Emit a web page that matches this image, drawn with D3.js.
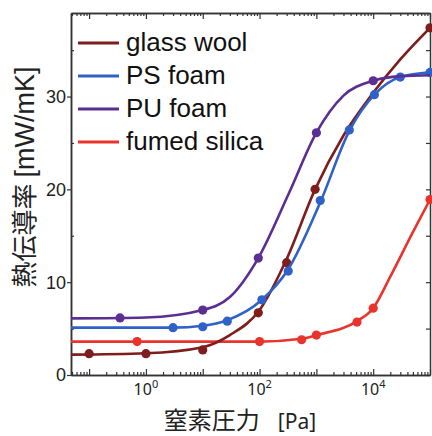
<!DOCTYPE html>
<meta charset="utf-8">
<title>熱伝導率 vs 窒素圧力</title>
<style>
  body { margin: 0; background: #fff; }
  svg { display: block; }
</style>
<body>
<script src="https://d3js.org/d3.v7.min.js"></script>
<script>
// --- data (pressure in Pa, conductivity in mW/mK) ---
var seriesNames = ["glass wool", "PS foam", "PU foam", "fumed silica"];
var seriesColors = ["#7f1d1d", "#2f62c8", "#5a2e92", "#e8342c"];

var glassPts  = [[0.1, 2.3], [1, 2.3], [10, 2.7], [95, 6.7], [300, 12.1], [950, 20.0], [1e5, 37.4]];
var psPts     = [[3, 5.1], [10, 5.2], [27, 5.8], [110, 8.1], [320, 11.2], [1170, 18.8], [3800, 26.4], [1.05e4, 30.2], [3e4, 32.1], [1e5, 32.6]];
var puPts     = [[0.35, 6.15], [10, 7.0], [95, 12.6], [1000, 26.1], [1e4, 31.7]];
var fumedPts  = [[0.7, 3.6], [100, 3.6], [550, 3.8], [1000, 4.3], [5200, 5.7], [1e4, 7.2], [1e5, 18.9]];

// fitted curves as drawn in the figure
var glassFit  = [[0.048, 2.2], [1, 2.35], [10, 3.0], [30, 4.3], [100, 7.0], [300, 12.5], [950, 20.0], [3000, 25.8], [1e4, 30.4], [3e4, 34.0], [1e5, 37.4]];
var psFit     = [[0.048, 5.1], [3, 5.1], [10, 5.3], [27, 5.9], [110, 8.1], [320, 11.4], [1170, 18.6], [3800, 26.3], [1.05e4, 30.2], [3e4, 32.1], [1e5, 32.6]];
var puFit     = [[0.048, 6.1], [1, 6.2], [10, 7.0], [30, 8.4], [95, 12.6], [330, 19.6], [1000, 26.1], [3000, 30.1], [1e4, 31.7], [3e4, 32.2], [1e5, 32.3]];
var fumedFit  = [[0.048, 3.6], [100, 3.6], [550, 3.9], [1000, 4.3], [5200, 5.8], [1e4, 7.2], [2e4, 10.6], [5e4, 15.4], [1e5, 18.9]];

var xMajor = [1e-1, 1, 10, 100, 1e3, 1e4, 1e5];
var xLabelExp = [0, 2, 4];
var yMajor = [0, 10, 20, 30];
var yMinor = [5, 15, 25, 35];

var width = 432, height = 436;
var mLeft = 71, mRight = 430, mTop = 13, mBottom = 375;

var x = d3.scaleLog().domain([0.048, 1e5]).range([mLeft, mRight]);
var y = d3.scaleLinear().domain([0, 39]).range([mBottom, mTop]);

var svg = d3.select("body").append("svg")
    .attr("width", width)
    .attr("height", height);

svg.append("defs").append("clipPath").attr("id", "plot")
  .append("rect").attr("x", mLeft).attr("y", mTop)
    .attr("width", mRight - mLeft).attr("height", mBottom - mTop);

var xMinor = [];
for (var d = -2; d <= 4; d++) {
  for (var k = 2; k <= 9; k++) {
    var v = k * Math.pow(10, d);
    if (v > 0.048 && v < 1e5) xMinor.push(v);
  }
}

// axes
function styleAxis(g) {
  g.select(".domain").attr("stroke", "#333").attr("stroke-width", 1.5);
  g.selectAll(".tick line").attr("stroke", "#333").attr("stroke-width", 1.2);
  g.selectAll(".tick text").remove();
}

svg.append("g").attr("transform", "translate(0," + mBottom + ")")
  .call(d3.axisBottom(x).tickValues(xMinor).tickSize(-3).tickSizeOuter(0).tickFormat(""))
  .call(styleAxis);
svg.append("g").attr("transform", "translate(0," + mBottom + ")")
  .call(d3.axisBottom(x).tickValues(xMajor).tickSize(-6).tickSizeOuter(0).tickFormat(""))
  .call(styleAxis);
svg.append("g").attr("transform", "translate(0," + mTop + ")")
  .call(d3.axisTop(x).tickValues(xMinor).tickSize(-3).tickSizeOuter(0).tickFormat(""))
  .call(styleAxis);
svg.append("g").attr("transform", "translate(0," + mTop + ")")
  .call(d3.axisTop(x).tickValues(xMajor).tickSize(-6).tickSizeOuter(0).tickFormat(""))
  .call(styleAxis);

svg.append("g").attr("transform", "translate(" + mLeft + ",0)")
  .call(d3.axisLeft(y).tickValues(yMajor).tickSize(4).tickSizeOuter(0).tickFormat(""))
  .call(styleAxis);
svg.append("g").attr("transform", "translate(" + mLeft + ",0)")
  .call(d3.axisLeft(y).tickValues(yMinor).tickSize(-3).tickSizeOuter(0).tickFormat(""))
  .call(styleAxis);
svg.append("g").attr("transform", "translate(" + mRight + ",0)")
  .call(d3.axisRight(y).tickValues(yMajor.concat(yMinor)).tickSize(-4).tickSizeOuter(0).tickFormat(""))
  .call(styleAxis);

// y tick labels
svg.append("g").selectAll("text")
  .data(yMajor)
  .join("text")
    .attr("x", mLeft - 5)
    .attr("y", d => y(d))
    .attr("dy", "0.36em")
    .attr("text-anchor", "end")
    .style("font-family", "'Liberation Sans', Arial, sans-serif")
    .style("font-size", "18px")
    .attr("fill", "#222")
    .text(d => d);

// x tick labels 10^n
var xl = svg.append("g").selectAll("text")
  .data(xLabelExp)
  .join("text")
    .attr("x", d => x(Math.pow(10, d)))
    .attr("y", 395)
    .attr("text-anchor", "middle")
    .style("font-family", "'Noto Sans', sans-serif")
    .style("font-size", "16px")
    .attr("fill", "#222");
xl.append("tspan").text("10");
xl.append("tspan").attr("dy", -7).style("font-size", "11px").text(d => d);

// axis titles
var xt = svg.append("text")
    .attr("x", 240)
    .attr("y", 429)
    .attr("text-anchor", "middle")
    .attr("fill", "#222");
xt.append("tspan").style("font-family", "'Noto Sans CJK JP', sans-serif").style("font-size", "24px").text("窒素圧力");
xt.append("tspan").style("font-family", "'Noto Sans', sans-serif").style("font-size", "21px").attr("dx", 18).text("[Pa]");

var yt = svg.append("text")
    .attr("transform", "translate(34,177) rotate(-90)")
    .attr("text-anchor", "middle")
    .attr("fill", "#222");
yt.append("tspan").style("font-family", "'Noto Sans CJK JP', sans-serif").style("font-size", "26px").text("熱伝導率");
yt.append("tspan").style("font-family", "'Liberation Sans', Arial, sans-serif").style("font-size", "27px").attr("dx", 6).text("[mW/mK]");

// curves and markers
var fits = [glassFit, psFit, puFit, fumedFit];
var pts = [glassPts, psPts, puPts, fumedPts];

var line = d3.line()
    .x(d => x(d[0]))
    .y(d => y(d[1]))
    .curve(d3.curveMonotoneX);

var order = [3, 0, 1, 2];
order.forEach(function(i) {
  svg.append("path")
      .datum(fits[i])
      .attr("clip-path", "url(#plot)")
      .attr("fill", "none")
      .attr("stroke", seriesColors[i])
      .attr("stroke-width", 2.6)
      .attr("d", line);
  svg.append("g").selectAll("circle")
    .data(pts[i])
    .join("circle")
      .attr("cx", d => x(d[0]))
      .attr("cy", d => y(d[1]))
      .attr("r", 4.6)
      .attr("fill", seriesColors[i]);
});

// legend
var legendY = [43, 76, 109, 142];
var lg = svg.append("g").selectAll("g")
  .data(seriesNames)
  .join("g")
    .attr("transform", (d, i) => "translate(78," + legendY[i] + ")");
lg.append("line")
    .attr("x1", 0).attr("x2", 41)
    .attr("stroke", (d, i) => seriesColors[i])
    .attr("stroke-width", 3);
lg.append("text")
    .attr("x", 48)
    .attr("y", 8)
    .style("font-family", "'Liberation Sans', Arial, sans-serif")
    .style("font-size", "26px")
    .attr("fill", "#111")
    .text(d => d);
</script>
</body>
